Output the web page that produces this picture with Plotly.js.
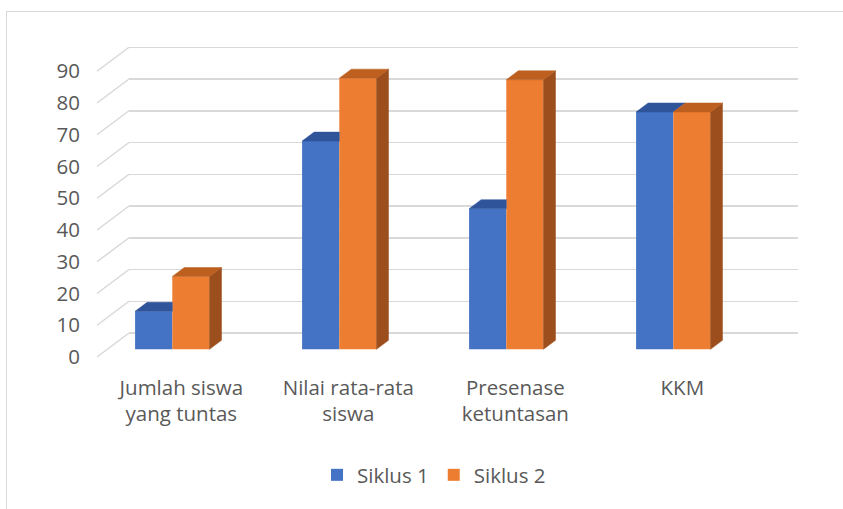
<!DOCTYPE html>
<html>
<head>
<meta charset="utf-8">
<script src="https://cdn.plot.ly/plotly-3.0.1.min.js"></script>
<style>
  html, body { margin: 0; padding: 0; background: #ffffff; }
  #wrap { position: relative; width: 843px; height: 509px; overflow: hidden; }
  #chart { width: 843px; height: 509px; }
  #frame { position: absolute; left: 6px; top: 11px; width: 900px; height: 600px;
           border: 1px solid #d9d9d9; pointer-events: none; box-sizing: border-box; }
</style>
</head>
<body>
<div id="wrap">
  <div id="chart"></div>
  <div id="frame"></div>
</div>
<script>
// ---- data ----
const categories = ['Jumlah siswa<br>yang tuntas', 'Nilai rata-rata<br>siswa', 'Presenase<br>ketuntasan', 'KKM'];
const siklus1 = [12, 65.8, 44.44, 75];
const siklus2 = [23, 85.7, 85.19, 75];
const seriesNames = ['Siklus 1', 'Siklus 2'];
const yTickValues = [0, 10, 20, 30, 40, 50, 60, 70, 80, 90];

// ---- styling / geometry constants ----
const frontColors = ['#4472C4', '#ED7D31'];
const topColors = ['#2F549A', '#BC5F1F'];
const sideColors = ['#2B4A85', '#9D4E1D'];
const textColor = '#595959';
const fontFamily = 'Open Sans, sans-serif';
const fontSize = 20.5;

const plotLeft = 129, plotRight = 798, plotTop = 30, plotBottom = 360;
const W = 843, H = 509;
const pxPerCat = 167;
const xRange = [-0.2593, -0.2593 + (plotRight - plotLeft) / pxPerCat];
const barPx = 3.164;          // px per unit for the bars plane
const gridPx = 3.175;         // px per unit for the back wall
const barZero = 349.3, gridZero = 333;
const yBarRange = [-(plotBottom - barZero) / barPx, (barZero - plotTop) / barPx];
const yGridRange = [-(plotBottom - gridZero) / gridPx, (gridZero - plotTop) / gridPx];
const bargap = 0.5545;
const barW = (1 - bargap) / 2;
const depthX = 12 / pxPerCat;     // depth offset (x units)
const depthY = 9 / barPx;         // depth offset (y units)
const wallShiftPx = 24;           // front vs back wall vertical offset
const wallDepthPx = 32;

const idx = categories.map((_, i) => i);
const series = [siklus1, siklus2];

const traces = [];
series.forEach((vals, s) => {
  traces.push({
    type: 'bar', x: idx, y: vals, name: seriesNames[s],
    marker: { color: frontColors[s], line: { width: 0 } },
    xaxis: 'x', yaxis: 'y', hoverinfo: 'x+y'
  });
});

function poly(xs, ys, color) {
  return {
    type: 'scatter', mode: 'lines', x: xs.concat([xs[0]]), y: ys.concat([ys[0]]),
    fill: 'toself', fillcolor: color, line: { color: color, width: 0.5 },
    showlegend: false, hoverinfo: 'skip', xaxis: 'x', yaxis: 'y'
  };
}

// 3D faces built from the data values
series.forEach((vals, s) => {
  vals.forEach((v, i) => {
    const xl = i + (s - 1) * barW;
    const xr = xl + barW;
    const next = s + 1 < series.length ? series[s + 1][i] : null;
    if (next === null) {
      traces.push(poly([xr, xr + depthX, xr + depthX, xr], [0, depthY, v + depthY, v], sideColors[s]));
    } else if (v > next) {
      traces.push(poly([xr, xr + depthX, xr + depthX, xr], [next, next + depthY, v + depthY, v], sideColors[s]));
    }
    if (next !== null && next > v) {
      traces.push(poly([xl, xl + depthX, xr, xr], [v, v + depthY, v + depthY, v], topColors[s]));
    } else {
      traces.push(poly([xl, xl + depthX, xr + depthX, xr], [v, v + depthY, v + depthY, v], topColors[s]));
    }
  });
});

// side-wall diagonal gridlines
const shapes = yTickValues.map(v => ({
  type: 'line', layer: 'below', xref: 'paper', yref: 'y2',
  x0: -wallDepthPx / (plotRight - plotLeft), y0: v - wallShiftPx / gridPx,
  x1: 0, y1: v,
  line: { color: '#d9d9d9', width: 1.5 }
}));

const layout = {
  width: W, height: H,
  margin: { l: plotLeft, r: W - plotRight, t: plotTop, b: H - plotBottom, pad: 0 },
  paper_bgcolor: '#ffffff', plot_bgcolor: 'rgba(0,0,0,0)',
  font: { family: fontFamily, size: fontSize, color: textColor },
  barmode: 'group', bargap: bargap, bargroupgap: 0,
  showlegend: true,
  legend: {
    orientation: 'h', x: (434 - plotLeft) / (plotRight - plotLeft), xanchor: 'center',
    y: -(475 - plotBottom) / (plotBottom - plotTop), yanchor: 'middle',
    font: { family: fontFamily, size: fontSize, color: textColor },
    traceorder: 'normal', itemwidth: 30
  },
  xaxis: {
    range: xRange, tickvals: idx, ticktext: categories,
    showgrid: false, zeroline: false, showline: false, ticks: '',
    ticklabelshift: 9, ticklabelstandoff: 13,
    tickfont: { family: fontFamily, size: fontSize, color: textColor }, fixedrange: true
  },
  yaxis: {
    range: yBarRange, visible: false, showgrid: false, zeroline: false, fixedrange: true
  },
  yaxis2: {
    overlaying: 'y', side: 'left', anchor: 'x',
    range: yGridRange, tickvals: yTickValues, showgrid: true,
    gridcolor: '#d9d9d9', gridwidth: 1.5, zeroline: false, showline: false, ticks: '',
    ticklabelshift: wallShiftPx, ticklabelstandoff: 48,
    tickfont: { family: fontFamily, size: fontSize, color: textColor }, fixedrange: true
  },
  shapes: shapes
};

Plotly.newPlot('chart', traces, layout, { displayModeBar: false, staticPlot: true });
</script>
</body>
</html>
